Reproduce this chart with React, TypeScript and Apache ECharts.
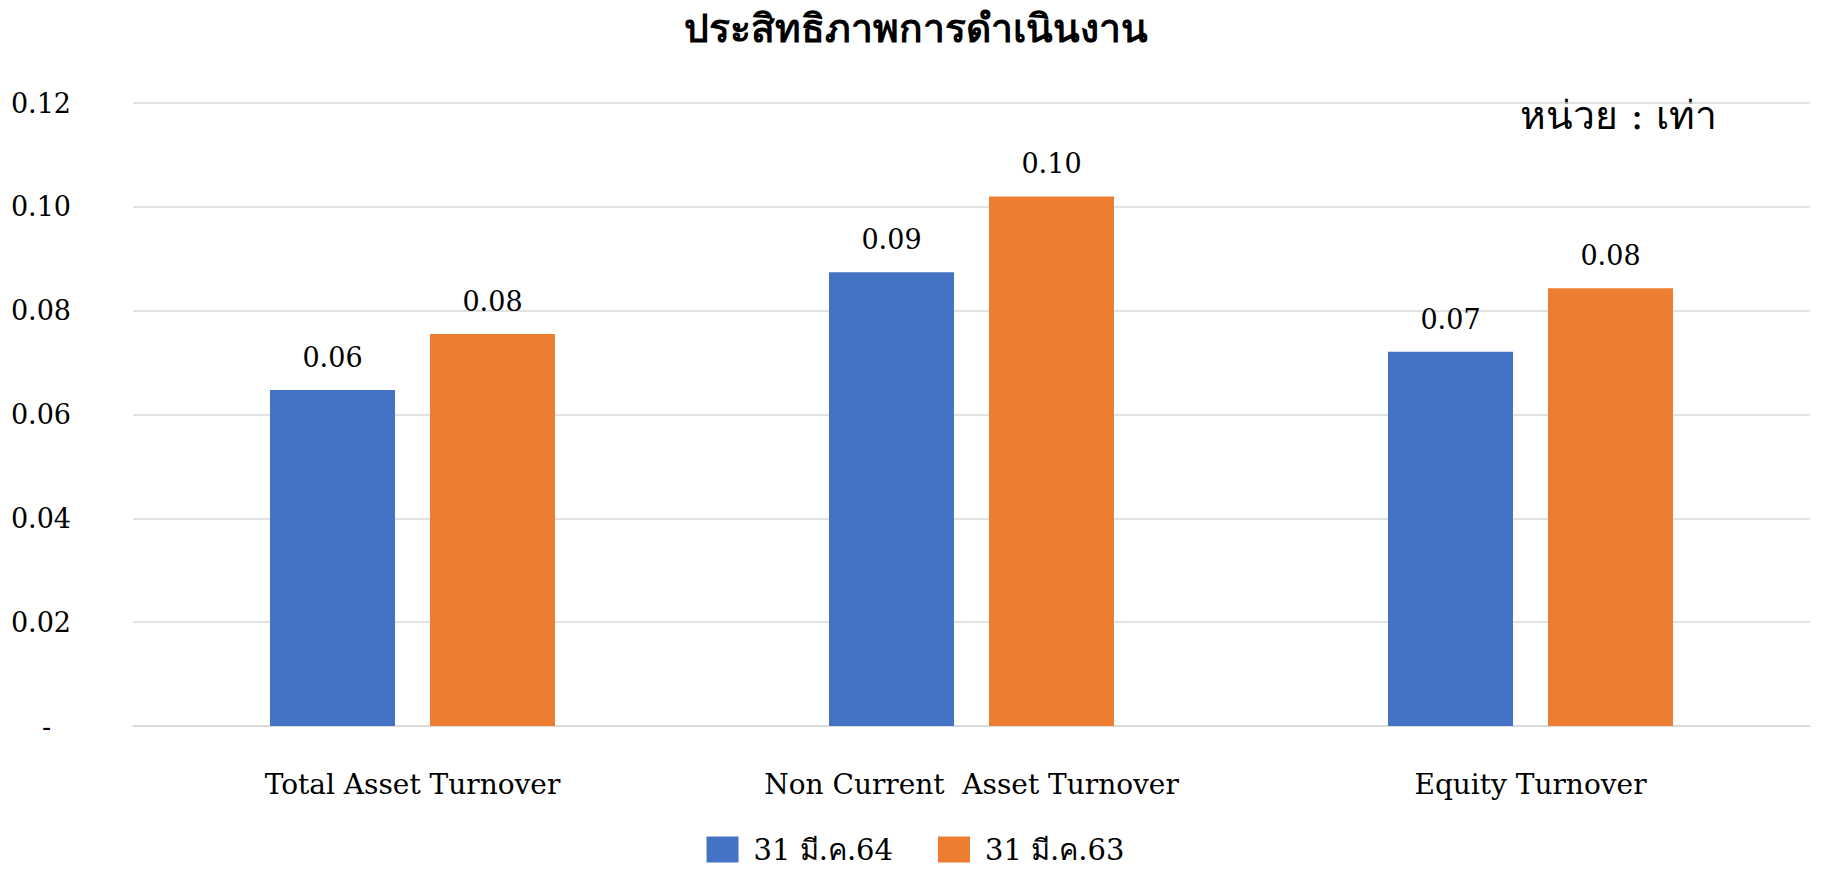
import React, { useEffect, useRef } from "react";
import * as echarts from "echarts";

const categories = ["Total Asset Turnover", "Non Current  Asset Turnover", "Equity Turnover"];
const series64 = [0.0647, 0.0874, 0.0721];
const series63 = [0.0755, 0.102, 0.0843];
const seriesNames = ["31 มี.ค.64", "31 มี.ค.63"];
const yTicks = { min: 0, max: 0.12, interval: 0.02 };
const titleText = "ประสิทธิภาพการดำเนินงาน";
const unitText = "หน่วย : เท่า";

const FONT = "'DejaVu Serif', 'Liberation Serif', serif";

export default function App() {
  const ref = useRef<HTMLDivElement>(null);
  useEffect(() => {
    document.body.style.margin = "0";
    const chart = echarts.init(ref.current!, undefined, { renderer: "svg" });
    const labelCfg = {
      show: true,
      position: "top",
      distance: 19,
      fontFamily: FONT,
      fontSize: 27,
      color: "#000",
      formatter: (p: any) => Number(p.value).toFixed(2),
    };
    chart.setOption({
      animation: false,
      backgroundColor: "#fff",
      textStyle: { fontFamily: FONT },
      title: {
        text: titleText,
        left: "center",
        top: 3,
        textStyle: { fontFamily: FONT, fontSize: 39, fontWeight: "bold", color: "#000" },
      },
      graphic: [
        {
          type: "text",
          right: 114,
          top: 96,
          style: { text: unitText, font: `39px ${FONT}`, fill: "#000" },
        },
      ],
      legend: {
        top: 830,
        left: "center",
        itemWidth: 32,
        itemHeight: 26,
        itemGap: 45,
        icon: "rect",
        textStyle: { fontFamily: FONT, fontSize: 29, color: "#000", padding: [0, 0, 0, 10] },
        data: seriesNames,
      },
      grid: { left: 133, right: 21, top: 103, bottom: 143 },
      xAxis: {
        type: "category",
        data: categories,
        axisTick: { show: false },
        axisLine: { lineStyle: { color: "#d9d9d9", width: 1.5 } },
        axisLabel: { margin: 44, fontFamily: FONT, fontSize: 28, color: "#000" },
      },
      yAxis: {
        type: "value",
        min: yTicks.min,
        max: yTicks.max,
        interval: yTicks.interval,
        axisLine: { show: false },
        axisTick: { show: false },
        splitLine: { lineStyle: { color: "#d9d9d9", width: 1.5 } },
        axisLabel: {
          margin: 62,
          fontFamily: FONT,
          fontSize: 27,
          color: "#000",
          formatter: (v: number) => (v === 0 ? "{d|-}" : v.toFixed(2)),
          rich: { d: { fontFamily: FONT, fontSize: 27, color: "#000", padding: [0, 20, 0, 0] } },
        },
      },
      series: [
        {
          name: seriesNames[0],
          type: "bar",
          data: series64,
          barWidth: 125,
          barGap: "28%",
          itemStyle: { color: "#4472C4" },
          label: labelCfg,
        },
        {
          name: seriesNames[1],
          type: "bar",
          data: series63,
          barWidth: 125,
          barGap: "28%",
          itemStyle: { color: "#ED7D31" },
          label: labelCfg,
        },
      ],
    });
    return () => chart.dispose();
  }, []);
  return <div ref={ref} style={{ width: 1831, height: 869 }} />;
}
